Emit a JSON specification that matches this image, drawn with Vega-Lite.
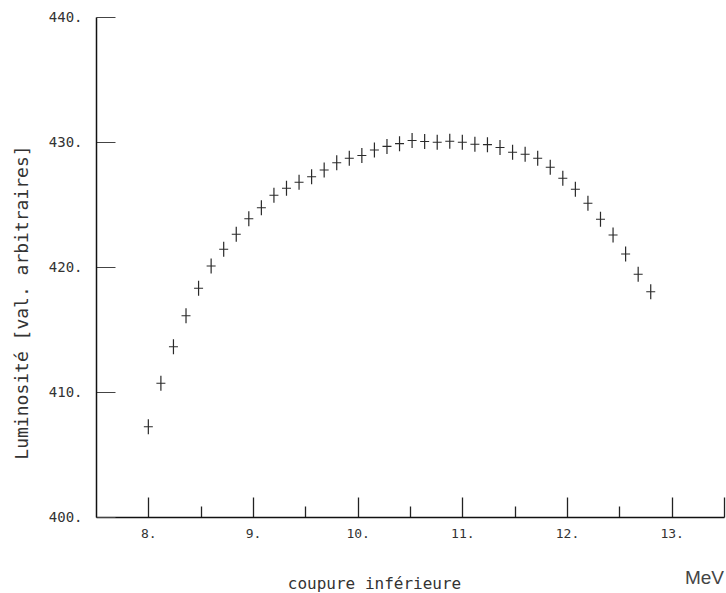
{
  "$schema": "https://vega.github.io/schema/vega-lite/v6.json",
  "autosize": {"type": "none"},
  "padding": {"left": 96, "top": 17, "right": 2, "bottom": 76},
  "width": 628,
  "height": 500,
  "background": "white",
  "view": {"stroke": null},
  "title": {
    "text": "MeV",
    "orient": "bottom",
    "anchor": "end",
    "frame": "group",
    "font": "Liberation Sans",
    "fontSize": 19,
    "fontWeight": "normal",
    "color": "#444",
    "offset": -22
  },
  "data": {
    "values": [
      {"E": 8.00, "L": 407.22},
      {"E": 8.12, "L": 410.70},
      {"E": 8.24, "L": 413.62},
      {"E": 8.36, "L": 416.10},
      {"E": 8.48, "L": 418.30},
      {"E": 8.60, "L": 420.08},
      {"E": 8.72, "L": 421.42},
      {"E": 8.84, "L": 422.62},
      {"E": 8.96, "L": 423.86},
      {"E": 9.08, "L": 424.74},
      {"E": 9.20, "L": 425.74},
      {"E": 9.32, "L": 426.30},
      {"E": 9.44, "L": 426.78},
      {"E": 9.56, "L": 427.22},
      {"E": 9.68, "L": 427.76},
      {"E": 9.80, "L": 428.34},
      {"E": 9.92, "L": 428.70},
      {"E": 10.04, "L": 428.92},
      {"E": 10.16, "L": 429.36},
      {"E": 10.28, "L": 429.65},
      {"E": 10.40, "L": 429.87},
      {"E": 10.52, "L": 430.12},
      {"E": 10.64, "L": 430.04},
      {"E": 10.76, "L": 429.98},
      {"E": 10.88, "L": 430.06},
      {"E": 11.00, "L": 429.98},
      {"E": 11.12, "L": 429.82},
      {"E": 11.24, "L": 429.79},
      {"E": 11.36, "L": 429.56},
      {"E": 11.48, "L": 429.18},
      {"E": 11.60, "L": 429.02},
      {"E": 11.72, "L": 428.70},
      {"E": 11.84, "L": 427.98},
      {"E": 11.96, "L": 427.10},
      {"E": 12.08, "L": 426.22},
      {"E": 12.20, "L": 425.10},
      {"E": 12.32, "L": 423.82},
      {"E": 12.44, "L": 422.56},
      {"E": 12.56, "L": 421.04},
      {"E": 12.68, "L": 419.42},
      {"E": 12.80, "L": 418.02}
    ]
  },
  "mark": {
    "type": "point",
    "shape": "M-0.6,0H0.6M0,-1V1",
    "size": 225,
    "filled": false,
    "stroke": "#2a2a2a",
    "strokeWidth": 1.2,
    "opacity": 1
  },
  "encoding": {
    "x": {
      "field": "E",
      "type": "quantitative",
      "scale": {"domain": [7.5, 13.5], "nice": false, "zero": false},
      "axis": {
        "values": [8, 8.5, 9, 9.5, 10, 10.5, 11, 11.5, 12, 12.5, 13, 13.5],
        "labelExpr": "datum.value % 1 === 0 ? format(datum.value, 'd') + '.' : ''",
        "grid": false,
        "domainColor": "#111",
        "domainWidth": 1.5,
        "tickColor": "#222",
        "tickWidth": 1.3,
        "tickSize": {"condition": {"test": "datum.value % 1 === 0 || datum.value === 13.5", "value": -20}, "value": -11},
        "labelPadding": 30,
        "labelFont": "DejaVu Sans Mono",
        "labelFontSize": 13,
        "labelColor": "#333",
        "labelFlush": false,
        "labelOverlap": false,
        "title": "coupure inférieure",
        "titleFont": "DejaVu Sans Mono",
        "titleFontSize": 16,
        "titleFontWeight": "normal",
        "titleColor": "#333",
        "titleX": 278,
        "titleY": 66,
        "titleBaseline": "middle"
      }
    },
    "y": {
      "field": "L",
      "type": "quantitative",
      "scale": {"domain": [400, 440], "nice": false, "zero": false},
      "axis": {
        "values": [400, 410, 420, 430, 440],
        "labelExpr": "format(datum.value, 'd') + '.'",
        "grid": false,
        "domainColor": "#111",
        "domainWidth": 1.5,
        "tickColor": "#444",
        "tickWidth": 1,
        "tickSize": {"condition": {"test": "true", "value": -19}, "value": -19},
        "labelPadding": 33,
        "labelFont": "DejaVu Sans Mono",
        "labelFontSize": 14,
        "labelColor": "#333",
        "labelFlush": false,
        "labelOverlap": false,
        "title": "Luminosité [val. arbitraires]",
        "titleFont": "DejaVu Sans Mono",
        "titleFontSize": 18,
        "titleFontWeight": "normal",
        "titleColor": "#333",
        "titleX": -74,
        "titleY": 285,
        "titleAngle": -90,
        "titleAlign": "center",
        "titleBaseline": "middle"
      }
    }
  }
}
